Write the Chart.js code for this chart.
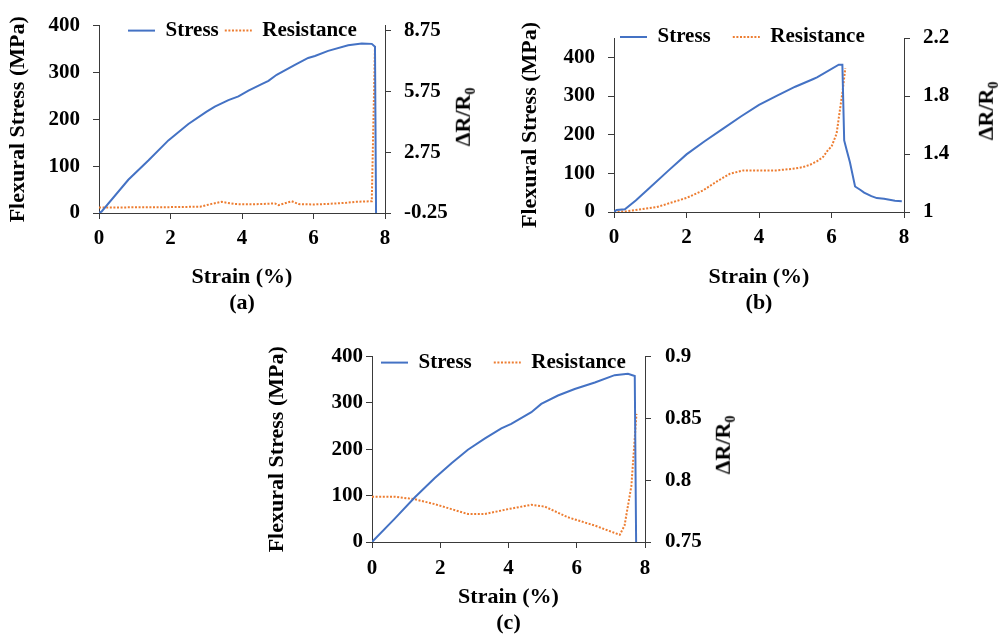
<!DOCTYPE html>
<html>
<head>
<meta charset="utf-8">
<script src="https://cdn.jsdelivr.net/npm/chart.js@4"></script>
<style>
  body { margin: 0; width: 1004px; height: 634px; overflow: hidden; background: #fff; position: relative; }
  canvas { position: absolute; }
  .rt { position: absolute; font: bold 22px 'Liberation Serif', 'Times New Roman', serif; color: #000;
        white-space: nowrap; line-height: 1; transform: translate(-50%, -50%) rotate(-90deg); }
  .rt sub { font-size: 14px; }
</style>
</head>
<body>
<canvas id="chartA" width="480" height="318" style="left:0;top:0"></canvas>
<canvas id="chartB" width="504" height="318" style="left:500px;top:0"></canvas>
<canvas id="chartC" width="460" height="306" style="left:260px;top:330px"></canvas>
<div class="rt" style="left:465px;top:117px">ΔR/R<sub>0</sub></div>
<div class="rt" style="left:988px;top:111px">ΔR/R<sub>0</sub></div>
<div class="rt" style="left:725px;top:445px">ΔR/R<sub>0</sub></div>
<script>
// tick labels
const xTicks = [0, 2, 4, 6, 8];
const stressTicks = [0, 100, 200, 300, 400];
const resTicksA = [-0.25, 2.75, 5.75, 8.75];
const resTicksB = [1, 1.4, 1.8, 2.2];
const resTicksC = [0.75, 0.8, 0.85, 0.9];

// (a)
const strainStressA = [0, 0.07, 0.82, 1.38, 1.94, 2.5, 3.0, 3.24, 3.62, 3.9, 4.18, 4.55, 4.74, 4.97, 5.48, 5.85, 6.04, 6.41, 6.97, 7.35, 7.63, 7.72, 7.75];
const stressA = [0, 3, 71, 112, 155, 190, 216, 227, 241, 249, 261, 275, 282, 295, 316, 331, 335, 346, 358, 362, 361, 355, 0];
const strainResA = [0, 1, 2, 2.83, 3.15, 3.43, 3.8, 4.3, 4.92, 5.02, 5.39, 5.58, 6.0, 6.41, 6.9, 7.16, 7.63, 7.72];
const resA = [0.02, 0.03, 0.04, 0.06, 0.2, 0.30, 0.19, 0.18, 0.22, 0.14, 0.33, 0.19, 0.17, 0.20, 0.25, 0.30, 0.33, 8.01];

// (b)
const strainStressB = [0, 0.07, 0.3, 0.6, 1, 1.5, 2, 2.5, 3, 3.5, 4, 4.5, 5, 5.5, 5.6, 6.2, 6.3, 6.35, 6.42, 6.51, 6.65, 6.8, 6.9, 7.1, 7.25, 7.45, 7.75, 7.94];
const stressB = [0, 5, 7, 30, 64, 107, 149, 183, 215, 247, 277, 301, 324, 344, 348, 381, 381, 185, 160, 128, 66, 57, 50, 41, 36, 34, 29, 28];
const strainResB = [0, 0.35, 1.18, 2.0, 2.46, 2.83, 3.2, 3.57, 4.0, 4.49, 5.0, 5.22, 5.41, 5.6, 5.77, 5.91, 6.0, 6.14, 6.23, 6.31, 6.38];
const resB = [1.0, 1.005, 1.034, 1.097, 1.149, 1.21, 1.264, 1.287, 1.287, 1.287, 1.30, 1.31, 1.326, 1.35, 1.38, 1.43, 1.45, 1.54, 1.70, 1.84, 1.99];

// (c)
const strainStressC = [0, 0.66, 1.25, 1.84, 2.33, 2.81, 3.3, 3.79, 4.08, 4.67, 4.96, 5.45, 5.94, 6.53, 7.11, 7.5, 7.7, 7.74];
const stressC = [0, 50, 96, 138, 170, 199, 223, 245, 255, 280, 298, 316, 330, 344, 360, 363, 358, 0];
const strainResC = [0, 0.66, 1.25, 1.84, 2.33, 2.81, 3.3, 3.99, 4.67, 5.06, 5.74, 6.53, 7.26, 7.4, 7.6, 7.75];
const resC = [0.7867, 0.7867, 0.7846, 0.7806, 0.7766, 0.7726, 0.7726, 0.7766, 0.7801, 0.7787, 0.77, 0.7633, 0.7558, 0.7633, 0.7952, 0.8537];

const FONT = "'Liberation Serif', 'Times New Roman', serif";
const BLUE = '#4472C4', ORANGE = '#ED7D31', AXIS = '#3a3a3a';
const LEG_SIZE = 21;

function pts(xs, ys) { return xs.map((x, i) => ({ x: x, y: ys[i] })); }
function setTicks(vals) { return s => { s.ticks = vals.map(v => ({ value: v })); }; }
function fmt(v) { return String(+(+v).toFixed(2)); }

// the legend sits inside the plot in the figure: take 1px of layout, then move it there
const legendSpot = {
    id: 'legendSpot',
    afterLayout(chart, args, opts) {
        const lg = chart.legend;
        if (!lg) return;
        const pad = lg.options.labels.padding;
        lg.left = chart.chartArea.left + opts.dx - pad;
        lg.top = chart.chartArea.top + opts.dy - pad - LEG_SIZE / 2;
        lg.right = lg.left + 600;
        lg.bottom = lg.top + 60;
    }
};

function axisGrid() {
    return { drawOnChartArea: false, drawTicks: true, tickLength: 6, color: AXIS, lineWidth: 1 };
}

function buildChart(id, p) {
    return new Chart(document.getElementById(id), {
        type: 'line',
        data: {
            datasets: [
                { label: 'Stress', data: pts(p.sx, p.sy), yAxisID: 'y', borderColor: BLUE, backgroundColor: BLUE,
                  borderWidth: 2, pointRadius: 0, tension: 0, fill: false },
                { label: 'Resistance', data: pts(p.rx, p.ry), yAxisID: 'y1', borderColor: ORANGE, backgroundColor: ORANGE,
                  borderWidth: 2, borderDash: [2, 1.6], pointRadius: 0, tension: 0, fill: false }
            ]
        },
        options: {
            responsive: false,
            animation: false,
            events: [],
            layout: { padding: { top: p.top - 1, left: 0, right: 0, bottom: 0 } },
            plugins: {
                tooltip: { enabled: false },
                legendSpot: { dx: p.legX, dy: p.legY },
                legend: {
                    position: 'top',
                    align: 'start',
                    maxHeight: 1,
                    labels: {
                        usePointStyle: true,
                        pointStyle: 'line',
                        pointStyleWidth: 27,
                        padding: p.legPad,
                        color: '#000',
                        font: { family: FONT, size: LEG_SIZE, weight: 'bold' },
                        generateLabels(chart) {
                            const items = Chart.defaults.plugins.legend.labels.generateLabels(chart);
                            items.forEach(it => {
                                const ds = chart.data.datasets[it.datasetIndex];
                                it.lineDash = ds.borderDash || [];
                                it.lineWidth = ds.borderWidth;
                                it.strokeStyle = ds.borderColor;
                                it.pointStyle = 'line';
                            });
                            return items;
                        }
                    }
                }
            },
            scales: {
                x: {
                    type: 'linear', min: 0, max: 8,
                    afterBuildTicks: setTicks(xTicks),
                    afterFit: s => { s.height = p.xh; },
                    grid: axisGrid(),
                    border: { display: true, color: AXIS, width: 1 },
                    ticks: { color: '#000', padding: p.xTickPad, font: { family: FONT, size: 21, weight: 'bold' } },
                    title: { display: true, text: ['Strain (%)', p.tag], color: '#000',
                             padding: { top: 0, bottom: p.xTitlePad },
                             font: { family: FONT, size: 22, weight: 'bold', lineHeight: '26px' } }
                },
                y: {
                    position: 'left', min: 0, max: p.yMax,
                    afterBuildTicks: setTicks(stressTicks),
                    afterFit: s => { s.width = p.yw; },
                    grid: axisGrid(),
                    border: { display: true, color: AXIS, width: 1 },
                    ticks: { color: '#000', padding: p.yTickPad, font: { family: FONT, size: 21, weight: 'bold' } },
                    title: { display: true, text: 'Flexural Stress (MPa)', color: '#000',
                             padding: { top: p.yTitlePad, bottom: 0 },
                             font: { family: FONT, size: 22, weight: 'bold' } }
                },
                y1: {
                    position: 'right', min: p.rMin, max: p.rMax,
                    afterBuildTicks: setTicks(p.rTicks),
                    afterFit: s => { s.width = p.rw; },
                    grid: axisGrid(),
                    border: { display: true, color: AXIS, width: 1 },
                    ticks: { color: '#000', padding: p.rTickPad, callback: fmt,
                             font: { family: FONT, size: 21, weight: 'bold' } }
                }
            }
        },
        plugins: [legendSpot]
    });
}

buildChart('chartA', {
    sx: strainStressA, sy: stressA, rx: strainResA, ry: resA,
    top: 17, xh: 105, yw: 99, rw: 95, yMax: 400, rMin: -0.25, rMax: 9, rTicks: resTicksA,
    xTickPad: 7, yTickPad: 13, rTickPad: 13, xTitlePad: 2, yTitlePad: 5, tag: '(a)',
    legX: 29, legY: 5, legPad: 6
});

buildChart('chartB', {
    sx: strainStressB, sy: stressB, rx: strainResB, ry: resB,
    top: 38, xh: 106, yw: 114, rw: 100, yMax: 450, rMin: 1, rMax: 2.2, rTicks: resTicksB,
    xTickPad: 7, yTickPad: 13, rTickPad: 13, xTitlePad: 2, yTitlePad: 17, tag: '(b)',
    legX: 6, legY: -1, legPad: 22
});

buildChart('chartC', {
    sx: strainStressC, sy: stressC, rx: strainResC, ry: resC,
    top: 24, xh: 94, yw: 112, rw: 75, yMax: 400, rMin: 0.75, rMax: 0.9, rTicks: resTicksC,
    xTickPad: 8, yTickPad: 3, rTickPad: 14, xTitlePad: 0, yTitlePad: 4, tag: '(c)',
    legX: 9, legY: 6, legPad: 22
});
</script>
</body>
</html>
